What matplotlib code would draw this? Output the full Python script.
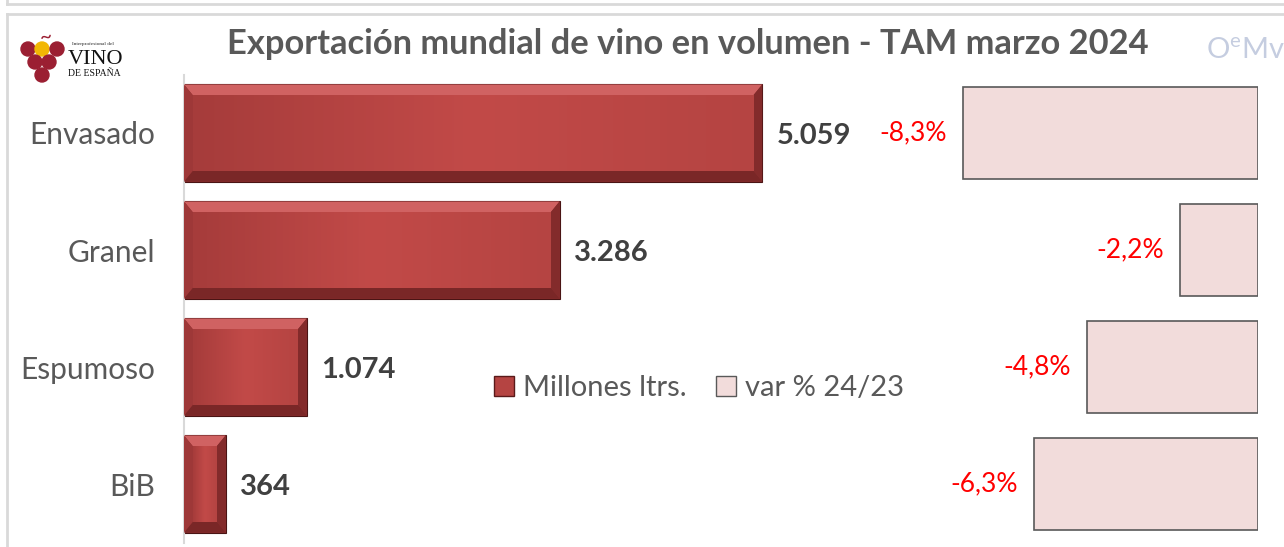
import numpy as np
import matplotlib.pyplot as plt
from matplotlib.patches import Polygon, Rectangle, Circle, Patch
from matplotlib.colors import LinearSegmentedColormap

plt.rcParams['font.family'] = ['Lato', 'DejaVu Sans']

categorias = ['Envasado', 'Granel', 'Espumoso', 'BiB']
millones = [5.059, 3.286, 1.074, 0.364]
etiquetas_vol = ['5.059', '3.286', '1.074', '364']
variacion = [-8.3, -2.2, -4.8, -6.3]
etiquetas_var = ['-8,3%', '-2,2%', '-4,8%', '-6,3%']

W, H = 1284, 547
fig = plt.figure(figsize=(W / 100, H / 100), dpi=100)

# frame lines of the screenshot
bg = fig.add_axes([0, 0, 1, 1])
bg.set_xlim(0, W)
bg.set_ylim(H, 0)
bg.axis('off')
bg.plot([7, W], [4, 4], color='#d9d9d9', lw=2)
bg.plot([7, 7], [0, 4], color='#d9d9d9', lw=2)
bg.plot([7, W], [14, 14], color='#d9d9d9', lw=2)
bg.plot([7, 7], [14, H], color='#d9d9d9', lw=2)

# logo
for (cx, cy, col) in [(28, 49, '#9b1f32'), (42, 49, '#f2b705'), (57, 49, '#9b1f32'),
                      (35, 62, '#9b1f32'), (49, 62, '#9b1f32'), (42, 75, '#9b1f32')]:
    bg.add_patch(Circle((cx, cy), 7, color=col))
bg.text(46, 37, '~', ha='center', va='center', fontsize=15, color='#9b1f32')
bg.text(72, 44, 'Interprofesional del', fontsize=3.8, family='Liberation Serif', va='center', color='#222222')
bg.text(68, 59, 'VINO', fontsize=16, family='Liberation Serif', va='center', color='#111111')
bg.text(68, 73, 'DE ESPAÑA', fontsize=7, family='Liberation Serif', va='center', color='#111111')

# OeMv watermark
plt.rcParams['mathtext.default'] = 'regular'
bg.text(1206, 50, r'O$^{e}$Mv', fontsize=21, va='center', color='#c5cde0')

fig.text(688 / W, 1 - 44 / H, 'Exportación mundial de vino en volumen - TAM marzo 2024',
         ha='center', va='center', fontsize=24.8, fontweight='bold', color='#595959')

# left axes: volumes
px_per_unit = 114.3
ax_l, ax_w = 184, 700
top, bottom = 74.5, 542.5
ax = fig.add_axes([ax_l / W, 1 - bottom / H, ax_w / W, (bottom - top) / H])
ax.set_xlim(0, ax_w / px_per_unit)
ax.set_ylim(len(categorias) - 0.5, -0.5)
ax.set_xticks([])
ax.set_yticks(range(len(categorias)))
ax.set_yticklabels(categorias, fontsize=21.5, color='#595959')
ax.tick_params(axis='y', length=0, pad=21)
for s in ['top', 'right', 'bottom']:
    ax.spines[s].set_visible(False)
ax.spines['left'].set_color('#d9d9d9')
ax.spines['left'].set_linewidth(1.5)

bar_h = 0.83
dx = 9 / px_per_unit
dy = 11 / 117.0
cmap = LinearSegmentedColormap.from_list('rojo', ['#a63c3b', '#c24a48', '#b54442'])
grad = np.linspace(0, 1, 256).reshape(1, -1)
for i, v in enumerate(millones):
    y0, y1 = i - bar_h / 2, i + bar_h / 2
    ax.add_patch(Rectangle((0, y0), v, bar_h, facecolor='#8a2d2d', edgecolor='#4a1414', lw=0.8, zorder=2))
    ax.add_patch(Polygon([(0, y0), (v, y0), (v - dx, y0 + dy), (dx, y0 + dy)], closed=True,
                         facecolor='#d06262', lw=0, zorder=3))
    ax.add_patch(Polygon([(0, y1), (v, y1), (v - dx, y1 - dy), (dx, y1 - dy)], closed=True,
                         facecolor='#7a2727', lw=0, zorder=3))
    ax.add_patch(Polygon([(0, y0), (dx, y0 + dy), (dx, y1 - dy), (0, y1)], closed=True,
                         facecolor='#9e3838', lw=0, zorder=3))
    ax.add_patch(Polygon([(v, y0), (v - dx, y0 + dy), (v - dx, y1 - dy), (v, y1)], closed=True,
                         facecolor='#832b2b', lw=0, zorder=3))
    ax.imshow(grad, cmap=cmap, aspect='auto', extent=(dx, v - dx, y1 - dy, y0 + dy), zorder=4)
    ax.annotate(etiquetas_vol[i], (v, i), xytext=(10.5, -2), textcoords='offset points',
                ha='left', va='center', fontsize=21, fontweight='bold', color='#404040')

# right axes: variation
px_per_pct = 35.6
r_l, r_r = 880, 1258
axr = fig.add_axes([r_l / W, 1 - bottom / H, (r_r - r_l) / W, (bottom - top) / H])
axr.set_xlim(-(r_r - r_l) / px_per_pct, 0)
axr.set_ylim(len(categorias) - 0.5, -0.5)
axr.axis('off')
axr.barh(range(len(categorias)), variacion, height=0.78, color='#f2dcdb',
         edgecolor='#595959', linewidth=1.2)
for i, p in enumerate(variacion):
    axr.annotate(etiquetas_var[i], (p, i), xytext=(-11.5, 0), textcoords='offset points',
                 ha='right', va='center', fontsize=19, color='#ff0000')

handles = [Patch(facecolor='#b54442', edgecolor='#5a1a1a', label='Millones ltrs.'),
           Patch(facecolor='#f2dcdb', edgecolor='#595959', label='var % 24/23')]
leg = fig.legend(handles=handles, loc='center', bbox_to_anchor=(699 / W, 1 - 388 / H), ncol=2,
                 frameon=False, fontsize=21, handlelength=0.7, handleheight=0.7,
                 handletextpad=0.3, columnspacing=1.0)
for t in leg.get_texts():
    t.set_color('#595959')

fig.savefig('out.png', dpi=100)
